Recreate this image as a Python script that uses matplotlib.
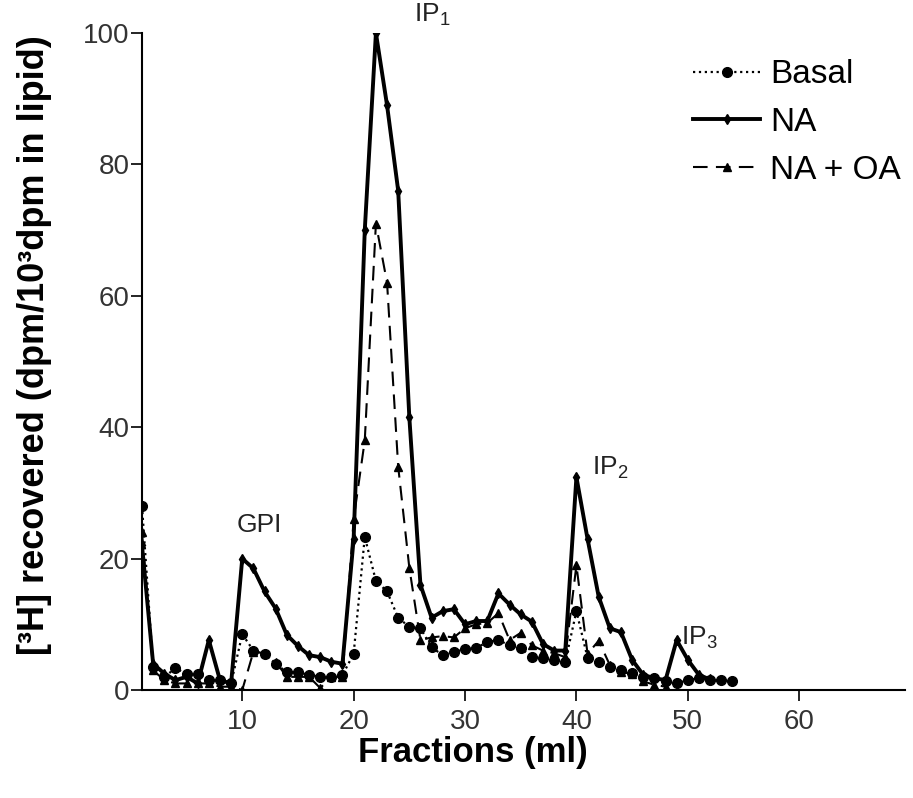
import numpy as np
import matplotlib
matplotlib.use('Agg')
import matplotlib.pyplot as plt

plt.rcParams['font.family'] = ['Liberation Sans', 'DejaVu Sans']
plt.rcParams['mathtext.fontset'] = 'custom'
plt.rcParams['mathtext.rm'] = 'Liberation Sans'
plt.rcParams['mathtext.default'] = 'regular'

# fractions (ml) and [3H] recovered (dpm/10^3 dpm in lipid)
frac_basal = np.arange(1, 55)
basal = [28, 3.5, 2, 3.3, 2.5, 2.5, 1.5, 1.5, 1, 8.5,
         6, 5.5, 4, 2.7, 2.7, 2.3, 2, 2, 2.3, 5.5,
         23.3, 16.6, 15, 11, 9.6, 9.4, 6.5, 5.3, 5.8, 6.2,
         6.4, 7.3, 7.6, 6.8, 6.4, 5, 4.9, 4.6, 4.3, 12,
         4.9, 4.3, 3.5, 3, 2.6, 2, 1.8, 1.3, 1, 1.5,
         1.8, 1.5, 1.5, 1.4]

frac_na = np.arange(1, 53)
na = [22, 4, 2.5, 1.5, 2, 1, 7.6, 1.5, 1, 20,
      18.5, 15, 12.4, 8.4, 6.7, 5.3, 5, 4.3, 4, 23,
      70, 100, 89, 76, 41.5, 16, 11, 12, 12.3, 10,
      10.5, 10.5, 14.7, 13, 11.5, 10.4, 7, 6, 6, 32.4,
      23, 14.2, 9.4, 8.8, 4.6, 2.3, 1.8, 1.5, 7.6, 4.6,
      2.3, 1.6]

frac_oa = np.arange(1, 49)
na_oa = [24, 3, 1.5, 1, 1, 1, 1, 0.5, 0.5, 0,
         5.8, 5.6, 4.3, 2, 2, 2, 0.3, 2, 2, 26,
         38, 71, 62, 34, 18.6, 7.6, 8, 8.2, 8, 9.4,
         10, 10.2, 11.7, 7.6, 8.7, 6.8, 6, 5.6, 5, 19,
         5.5, 7.5, 3.8, 2.7, 2.5, 1.3, 0.8, 0.5]

peak_labels = ['GPI', 'IP$_1$', 'IP$_2$', 'IP$_3$']
peak_x = [11.5, 27.1, 43.0, 51.0]
peak_y = [23.3, 100.7, 31.8, 6.0]

fig = plt.figure(figsize=(9.13, 7.98), dpi=100)
ax = fig.add_axes([142/913, 108/798, 763/913, 657/798])

ax.plot(frac_basal, basal, color='k', linestyle=':', linewidth=1.6,
        marker='o', markersize=7, label='Basal')
ax.plot(frac_na, na, color='k', linestyle='-', linewidth=2.8,
        marker='d', markersize=5, label='NA')
ax.plot(frac_oa, na_oa, color='k', linestyle=(0, (7, 4)), linewidth=1.5,
        marker='^', markersize=6, label='NA + OA')

for lab, x, y in zip(peak_labels, peak_x, peak_y):
    ax.text(x, y, lab, fontsize=19, color='#222222', ha='center', va='bottom',
            clip_on=False)

ax.set_xlim(1, 69.5)
ax.set_ylim(0, 100)
ax.set_xticks([10, 20, 30, 40, 50, 60])
ax.set_yticks([0, 20, 40, 60, 80, 100])
ax.tick_params(axis='both', direction='out', length=8, width=1.2,
               labelsize=20, labelcolor='#333333')
ax.tick_params(axis='x', pad=6)
ax.tick_params(axis='y', pad=1)
for s in ['top', 'right']:
    ax.spines[s].set_visible(False)
for s in ['left', 'bottom']:
    ax.spines[s].set_linewidth(1.5)

ax.set_xlabel('Fractions (ml)', fontsize=25, fontweight='bold')
ax.xaxis.set_label_coords((473 - 142) / 763, -0.07)
ax.set_ylabel('[³H] recovered (dpm/10³dpm in lipid)', fontsize=26,
              fontweight='bold')
ax.yaxis.set_label_coords(-0.118, 0.525)

ax.legend(loc='upper left', bbox_to_anchor=(0.705, 0.98), frameon=False,
          fontsize=24, handlelength=2.0, handletextpad=0.3, labelspacing=0.5,
          numpoints=1, borderaxespad=0)

fig.savefig('out.png', dpi=100)
